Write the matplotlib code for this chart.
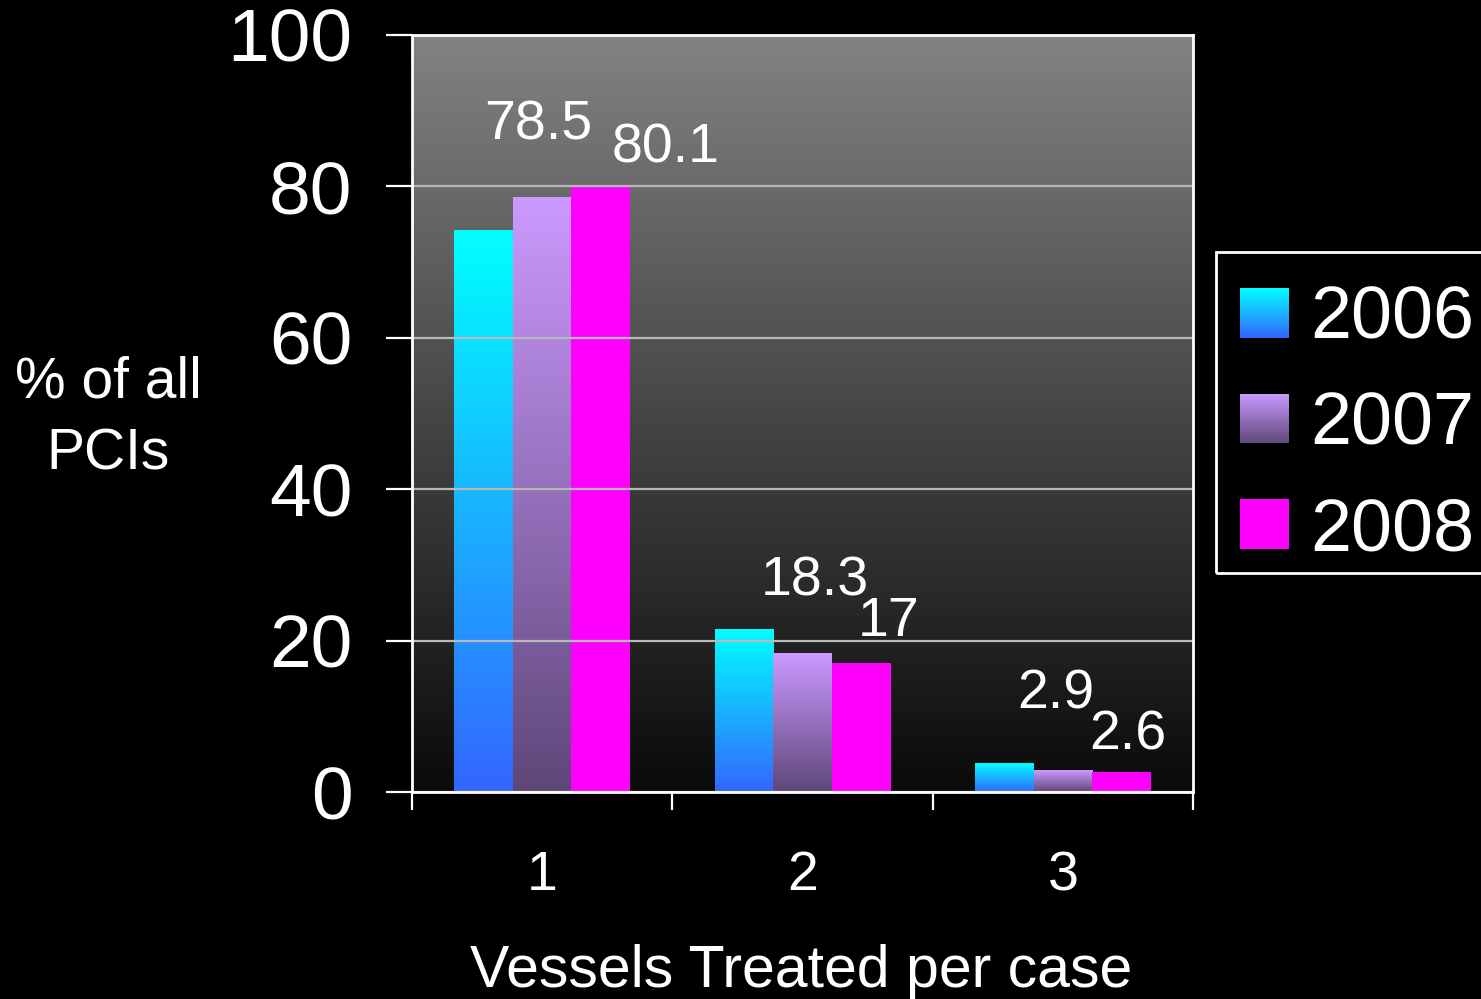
import numpy as np
import matplotlib
matplotlib.use("Agg")
import matplotlib.pyplot as plt
from matplotlib.patches import Rectangle
from matplotlib.legend_handler import HandlerBase
from matplotlib.colors import to_rgb

# ---- data ----
categories = ["1", "2", "3"]
years = ["2006", "2007", "2008"]
vals_2006 = [74.2, 21.5, 3.7]
vals_2007 = [78.5, 18.3, 2.9]
vals_2008 = [80.1, 17.0, 2.6]
yticks = [0, 20, 40, 60, 80, 100]

# ---- style ----
grad_top = {"2006": "#00FFFF", "2007": "#CC99FF", "2008": "#FF00FF"}
grad_bot = {"2006": "#3366FF", "2007": "#5E4778", "2008": "#FF00FF"}
# which labels are shown and their offsets (points, baseline) relative to bar top centre
label_offsets = {
    ("2007", 0): (-2.5, 42), ("2008", 0): (47, 16.6),
    ("2007", 1): (9, 42), ("2008", 1): (20, 20),
    ("2007", 2): (-5, 44), ("2008", 2): (5, 16.6),
}

plt.rcParams['font.family'] = ['Liberation Sans', 'DejaVu Sans']

W, H = 1481, 999
fig = plt.figure(figsize=(W / 100, H / 100), dpi=100, facecolor="black")
ax = fig.add_axes([412 / W, 207 / H, 781 / W, 757 / H])
ax.set_facecolor("black")


def grad(top, bot, n=256):
    t = np.array(to_rgb(top)); b = np.array(to_rgb(bot))
    f = np.linspace(0, 1, n)[:, None]
    return (b * (1 - f) + t * f)[:, None, :]


# background gradient
bg = grad("#828282", "#0a0a0a")
ax.imshow(bg, extent=[0, 1, 0, 1], transform=ax.transAxes, aspect="auto",
          origin="lower", zorder=0, interpolation="bilinear")

x = np.arange(len(categories))
width = 0.225
series = [vals_2006, vals_2007, vals_2008]
for i, (yr, vals) in enumerate(zip(years, series)):
    bars = ax.bar(x + (i - 1) * width, vals, width, facecolor="none",
                  edgecolor="none", zorder=2, label=yr)
    for j, b in enumerate(bars):
        x0, w, h = b.get_x(), b.get_width(), b.get_height()
        ax.imshow(grad(grad_top[yr], grad_bot[yr]), extent=[x0, x0 + w, 0, h],
                  origin="lower", aspect="auto", zorder=2,
                  interpolation="bilinear")
        if (yr, j) in label_offsets:
            v = vals[j]
            ax.annotate(f"{v:g}", (x0 + w / 2, h), xytext=label_offsets[(yr, j)],
                        textcoords="offset points", ha="center", va="baseline",
                        color="white", fontsize=40, zorder=5)

ax.set_xlim(-0.5, len(categories) - 0.5)
ax.set_ylim(0, 100)

# grid
ax.set_yticks(yticks)
ax.yaxis.grid(True, color="#b8b8b8", lw=1.6, zorder=1)
ax.set_axisbelow(False)
for gl in ax.get_ygridlines():
    gl.set_zorder(1)

for s in ax.spines.values():
    s.set_color("white")
    s.set_linewidth(2)
    s.set_zorder(3)

ax.tick_params(axis="y", colors="white", labelsize=54, length=19, width=1.6,
               pad=24, direction="out")
ax.set_yticklabels([str(t) for t in yticks])

# x: boundary ticks (major) and centred labels (minor)
ax.set_xticks(np.arange(-0.5, len(categories), 1.0))
ax.set_xticklabels([])
ax.tick_params(axis="x", which="major", colors="white", length=13, width=1.6,
               direction="out")
ax.set_xticks(x, minor=True)
ax.set_xticklabels(categories, minor=True)
ax.tick_params(axis="x", which="minor", length=0, labelsize=40, pad=42,
               labelcolor="white")

# axis titles
fig.text(108 / W, 1 - 398 / H, "% of all", color="white", fontsize=41,
         ha="center", va="baseline")
fig.text(108 / W, 1 - 470 / H, "PCIs", color="white", fontsize=41,
         ha="center", va="baseline")
fig.text(801 / W, 1 - 987 / H, "Vessels Treated per case", color="white",
         fontsize=42.5, ha="center", va="baseline")


# legend with gradient swatches
class GradHandler(HandlerBase):
    def __init__(self, top, bot, n=40):
        super().__init__()
        self.top = np.array(to_rgb(top)); self.bot = np.array(to_rgb(bot)); self.n = n

    def create_artists(self, legend, orig_handle, xdescent, ydescent, width,
                       height, fontsize, trans):
        arts = []
        side = height
        x0 = -xdescent
        y0 = -ydescent
        for k in range(self.n):
            f = (k + 0.5) / self.n
            c = self.bot * (1 - f) + self.top * f
            arts.append(Rectangle((x0, y0 + side * k / self.n), side,
                                  side / self.n * 1.05, facecolor=c,
                                  edgecolor="none", transform=trans))
        return arts


handles = [Rectangle((0, 0), 1, 1) for _ in years]
hmap = {h: GradHandler(grad_top[y], grad_bot[y]) for h, y in zip(handles, years)}
leg = fig.legend(handles, years, handler_map=hmap, loc="upper left",
                 bbox_to_anchor=(1216 / W, 1 - 261 / H), borderaxespad=0,
                 fontsize=53, frameon=False,
                 labelcolor="white", handlelength=0.66, handleheight=0.66,
                 handletextpad=0.3, labelspacing=0.5, borderpad=0.32)

# legend frame
fig.patches.append(Rectangle((1216 / W, 1 - 573 / H), 300 / W, 321 / H,
                             transform=fig.transFigure, facecolor="none",
                             edgecolor="white", lw=2, zorder=10))

fig.savefig("out.png", dpi=100, facecolor="black")
